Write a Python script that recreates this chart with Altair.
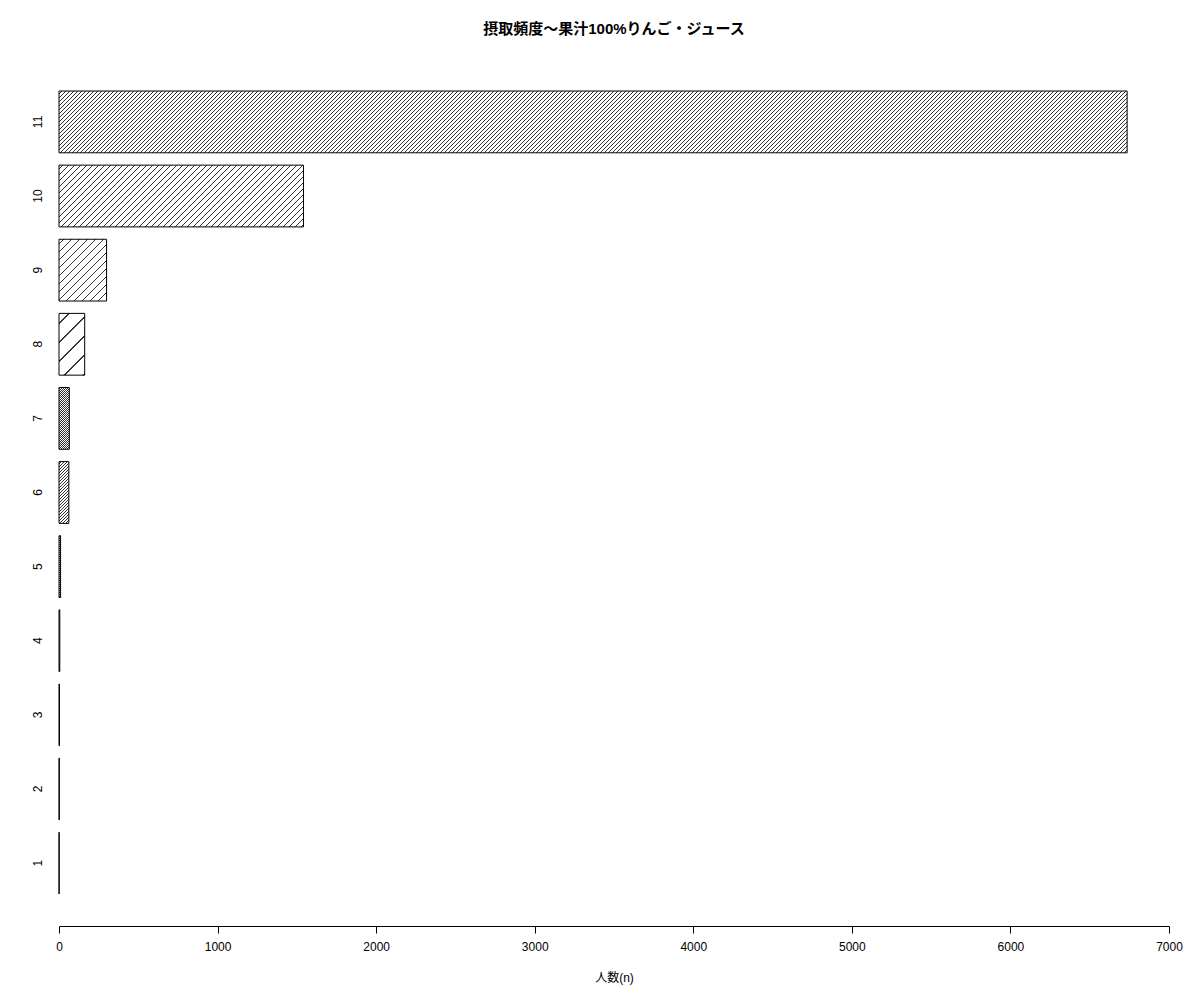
import math
import altair as alt
import pandas as pd

# ---- data ----
categories = ["1", "2", "3", "4", "5", "6", "7", "8", "9", "10", "11"]
counts = [1, 2, 3, 5, 10, 62, 65, 162, 300, 1542, 6736]
# horizontal distance (px) between hatch lines for each bar (style)
hatch_spacing = [2.0, 2.0, 2.0, 2.0, 2.0, 3.0, 2.0, 19.0, 8.0, 6.0, 4.0]
x_ticks = [0, 1000, 2000, 3000, 4000, 5000, 6000, 7000]

title_text = "摂取頻度〜果汁100%りんご・ジュース"
x_title = "人数(n)"

# ---- layout ----
PLOT_W = 1110
PLOT_H = 867
X_MAX = 7000
PAD_INNER = 1 / 6
PAD_OUTER = 0.432
FONT = "Liberation Sans, Arial, Noto Sans CJK JP"

step = PLOT_H / (len(categories) - PAD_INNER + 2 * PAD_OUTER)
band = step * (1 - PAD_INNER)

df = pd.DataFrame({"cat": categories, "count": counts})


def hatch_gradient(w, h, spacing, lw=0.8, line="#333333"):
    """45-degree hatching as a hard-stop linear gradient (bounding-box units)."""
    w = max(w, 0.5)
    span = w + h
    k = span / (w * w + h * h)
    lwx = lw * math.sqrt(2)
    stops = [{"offset": 0, "color": "white"}]
    c = spacing / 2
    while c < span:
        a = round(c / span, 6)
        b = round(min(1.0, (c + lwx) / span), 6)
        stops += [
            {"offset": a, "color": "white"},
            {"offset": a, "color": line},
            {"offset": b, "color": line},
            {"offset": b, "color": "white"},
        ]
        c += spacing
    stops.append({"offset": 1, "color": "white"})
    return {
        "gradient": "linear",
        "x1": 0,
        "y1": 0,
        "x2": round(w * k, 6),
        "y2": round(h * k, 6),
        "stops": stops,
    }


x_enc = alt.X(
    "count:Q",
    scale=alt.Scale(domain=[0, X_MAX], nice=False, zero=True),
    axis=alt.Axis(
        values=x_ticks,
        format="d",
        title=x_title,
        grid=False,
        domainColor="black",
        domainWidth=1,
        tickColor="black",
        tickWidth=1,
        tickSize=7,
        labelFlush=False,
        labelOverlap=False,
        labelPadding=8,
        labelFont=FONT,
        labelFontSize=12,
        labelColor="black",
        titleFont=FONT,
        titleFontSize=12,
        titleFontWeight="normal",
        titleColor="black",
        titlePadding=20,
    ),
)
y_enc = alt.Y(
    "cat:N",
    sort=list(reversed(categories)),
    scale=alt.Scale(paddingInner=PAD_INNER, paddingOuter=PAD_OUTER),
    axis=alt.Axis(
        title=None,
        domain=False,
        ticks=False,
        grid=False,
        labelAngle=270,
        labelAlign="center",
        labelBaseline="middle",
        labelPadding=22,
        labelFont=FONT,
        labelFontSize=12,
        labelColor="black",
    ),
)

layers = []
for cat, val, sp in zip(categories, counts, hatch_spacing):
    w_px = val * PLOT_W / X_MAX
    grad = hatch_gradient(w_px, band, sp)
    layers.append(
        alt.Chart(df)
        .transform_filter(alt.datum.cat == cat)
        .mark_bar(fill=grad, stroke="black", strokeWidth=1, opacity=1)
        .encode(x=x_enc, y=y_enc)
    )

chart = (
    alt.layer(*layers)
    .properties(
        width=PLOT_W,
        height=PLOT_H,
        background="white",
        title=alt.TitleParams(
            text=title_text,
            font="Liberation Sans, Noto Sans CJK JP",
            fontSize=15,
            fontWeight="bold",
            color="black",
            anchor="middle",
            offset=22,
        ),
        padding={"left": 51, "top": 51, "right": 20, "bottom": 70},
        autosize=alt.AutoSizeParams(type="none"),
    )
    .configure_view(stroke="transparent", strokeWidth=0)
)

chart.save("out.html", embed_options={"renderer": "svg", "actions": False})
